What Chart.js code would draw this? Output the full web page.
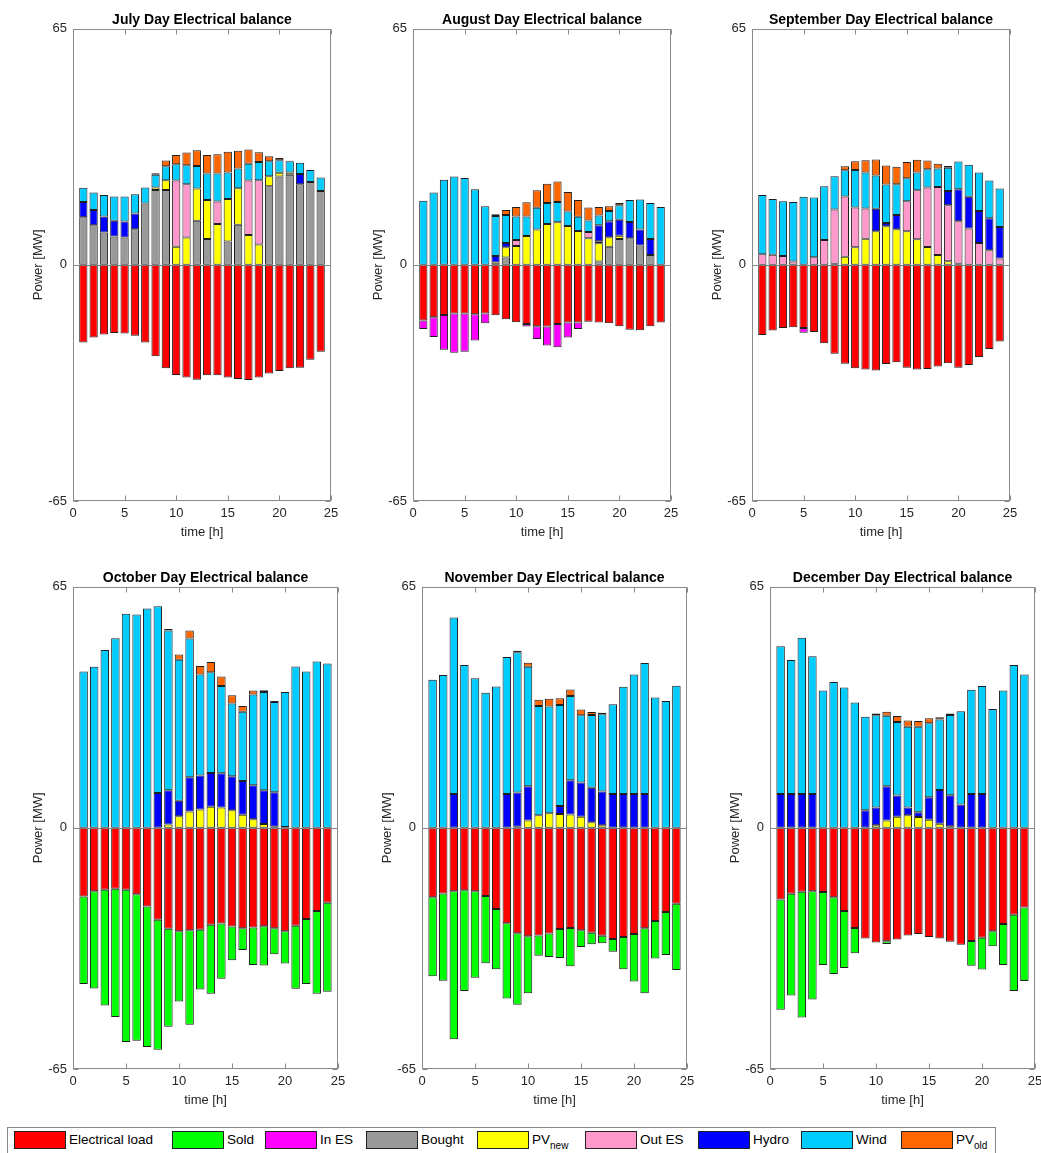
<!DOCTYPE html>
<html>
<head>
<meta charset="utf-8">
<script src="https://cdn.jsdelivr.net/npm/chart.js@4.4.1/dist/chart.umd.min.js"></script>
<style>
  body { margin: 0; background: #fff; width: 1041px; height: 1153px; overflow: hidden; position: relative;
         font-family: "Liberation Sans", Arial, sans-serif; }
  canvas { position: absolute; }
  #legend { position: absolute; left: 7px; top: 1127px; width: 987px; height: 30px; border: 1px solid #888; background: #fff; }
  .sw { position: absolute; top: 3px; width: 50px; height: 16px; border: 1px solid #222; }
  .lt { position: absolute; top: 3px; font-size: 13.5px; line-height: 18px; color: #000; white-space: nowrap; }
  .lt sub { font-size: 10px; vertical-align: -5px; line-height: 0; }
</style>
</head>
<body>
<canvas id="c0"></canvas>
<canvas id="c1"></canvas>
<canvas id="c2"></canvas>
<canvas id="c3"></canvas>
<canvas id="c4"></canvas>
<canvas id="c5"></canvas>
<div id="legend"></div>
<script>
// hours of the day (x values of the bars)
const hours = [1,2,3,4,5,6,7,8,9,10,11,12,13,14,15,16,17,18,19,20,21,22,23,24];
const yTicks = [-65, 0, 65];

// series in legend order
const seriesNames = ['Electrical load','Sold','In ES','Bought','PV<sub>new</sub>','Out ES','Hydro','Wind','PV<sub>old</sub>'];
const seriesColors = ['#ff0000','#00ff00','#ff00ff','#999999','#ffff00','#ff99cc','#0000ff','#00ccff','#ff6600'];

// ---- July
const julyLoad   = [-21.4,-20.0,-19.2,-18.8,-18.9,-19.5,-21.4,-25.2,-28.5,-30.3,-31.0,-31.6,-30.4,-30.4,-31.0,-31.4,-31.7,-31.0,-29.9,-29.2,-28.5,-28.3,-26.1,-23.9];
const julySold   = [0,0,0,0,0,0,0,0,0,0,0,0,0,0,0,0,0,0,0,0,0,0,0,0];
const julyInES   = [0,0,0,0,0,0,0,0,0,0,0,0,0,0,0,0,0,0,0,0,0,0,0,0];
const julyBought = [13.1,10.9,8.9,7.8,7.5,9.8,16.9,20.6,20.6,0,0,12.1,7.1,0,6.4,11.0,0,0,21.6,24.3,24.8,22.2,22.8,20.3];
const julyPvNew  = [0,0,0,0,0,0,0,0.7,2.7,5.0,7.5,8.9,10.7,11.2,11.7,10.1,8.2,5.6,2.8,1.0,0.6,0,0,0];
const julyOutES  = [0,0,0,0,0,0,0,0,0,18.2,14.7,0,0,6.2,0,0,15.0,17.7,0,0,0,0,0,0];
const julyHydro  = [4.2,4.2,4.4,4.3,4.4,4.3,0,0,0,0,0,0,0,0,0,0,0,0,0,0,0,2.8,0,0];
const julyWind   = [3.9,4.8,5.9,6.7,6.9,5.3,4.4,3.5,3.8,4.5,5.2,6.2,7.3,7.7,7.3,5.4,4.6,5.0,4.1,3.5,3.1,3.1,3.3,3.7];
const julyPvOld  = [0,0,0,0,0,0,0,0.4,1.6,2.5,3.5,4.3,5.1,5.3,5.7,4.9,3.9,2.7,1.4,0.6,0.1,0,0,0];

// ---- August
const augLoad   = [-15.3,-14.4,-13.8,-13.4,-13.4,-13.6,-13.4,-13.9,-15.0,-15.8,-16.3,-16.9,-17.0,-16.3,-15.9,-15.9,-15.7,-15.9,-16.1,-16.9,-17.9,-18.0,-16.9,-15.9];
const augSold   = [0,0,0,0,0,0,0,0,0,0,0,0,0,0,0,0,0,0,0,0,0,0,0,0];
const augInES   = [-2.4,-5.5,-9.6,-10.8,-10.5,-7.2,-2.7,0,0,0,-0.7,-3.5,-5.2,-6.4,-4.1,-1.8,0,0,0,0,0,0,0,0];
const augBought = [0,0,0,0,0,0,0,0,2.0,0,0,0,0,0,0,0,0,0.9,5.0,7.1,7.3,5.3,2.7,0];
const augPvNew  = [0,0,0,0,0,0,0,0.6,2.8,5.2,7.9,9.7,11.2,11.7,10.7,9.3,7.3,5.0,2.6,0.9,0,0,0,0];
const augOutES  = [0,0,0,0,0,0,0,0,0,1.6,0,0,0,0,0,0,1.7,0.6,0,0,0,0,0,0];
const augHydro  = [0,0,0,0,0,0,0,1.8,1.2,0,0,0,0,0,0,0,0,4.4,4.4,4.4,4.5,4.4,4.4,0];
const augWind   = [17.6,19.9,23.4,24.3,23.9,20.8,16.1,11.0,7.7,6.5,5.4,6.0,5.8,5.6,4.0,3.9,3.2,2.7,2.8,4.0,6.0,8.3,9.9,15.9];
const augPvOld  = [0,0,0,0,0,0,0,0.5,1.4,2.6,3.9,4.8,5.3,5.6,5.3,4.6,3.6,2.3,1.3,0.6,0,0,0,0];

// ---- September
const sepLoad   = [-19.3,-18.1,-17.4,-17.2,-17.4,-18.5,-21.6,-24.5,-27.2,-28.5,-28.8,-29.1,-27.3,-26.8,-28.3,-28.8,-28.7,-28.0,-27.1,-28.3,-27.6,-25.4,-23.2,-21.1];
const sepSold   = [0,0,0,0,0,0,0,0,0,0,0,0,0,0,0,0,0,0,0,0,0,0,0,0];
const sepInES   = [0,0,0,0,-1.3,0,0,0,0,0,0,0,0,0,0,0,0,0,0,0,0,0,0,0];
const sepBought = [0,0,0,0,0,0,0,0.3,0,0,0,0,0,0,0,0,0,0,0,0,0,0,0,0];
const sepPvNew  = [0,0,0,0,0,0,0,0,2.2,4.8,7.2,9.2,10.6,9.8,9.2,7.0,4.9,2.7,1.0,0.3,0,0,0,0];
const sepOutES  = [2.9,2.8,2.4,0.9,0,2.1,6.8,14.9,16.6,11.0,8.3,0,0,0,8.3,13.5,16.4,18.7,15.4,11.7,10.0,6.0,4.0,1.7];
const sepHydro  = [0,0,0,0,0,0,0,0,0,0,0,6.2,0.9,3.9,0,0,0,0,3.9,8.8,8.7,8.8,8.8,8.7];
const sepWind   = [16.3,15.3,15.1,16.4,18.7,16.4,14.8,9.2,7.2,10.3,9.9,9.2,10.6,8.5,6.3,4.9,5.0,5.1,6.4,7.6,8.8,10.6,10.4,10.6];
const sepPvOld  = [0,0,0,0,0,0,0,0,1.1,2.4,3.4,4.4,5.2,4.8,4.5,3.5,2.4,1.3,0.5,0,0,0,0,0];

// ---- October
const octLoad   = [-18.5,-17.1,-16.7,-16.4,-16.7,-17.9,-21.2,-24.8,-27.2,-27.9,-27.6,-27.5,-26.1,-25.8,-26.6,-27.1,-26.9,-26.5,-27.1,-27.9,-26.4,-24.6,-22.4,-20.2];
const octSold   = [-23.6,-26.2,-31.2,-34.6,-41.0,-39.5,-37.9,-35.0,-26.4,-18.9,-25.5,-16.1,-18.6,-14.9,-9.1,-5.8,-10.1,-10.6,-7.0,-8.7,-17.0,-17.5,-22.3,-24.0];
const octInES   = [0,0,0,0,0,0,0,0,0,0,0,0,0,0,0,0,0,0,0,0,0,0,0,0];
const octBought = [0,0,0,0,0,0,0,0,0,0,0,0,0,0,0,0,0,0,0,0,0,0,0,0];
const octPvNew  = [0,0,0,0,0,0,0,0,0.9,3.1,4.4,4.9,5.7,5.5,4.7,3.5,2.3,1.0,0.3,0,0,0,0,0];
const octOutES  = [0,0,0,0,0,0,0,0,0,0,0,0,0,0,0,0,0,0,0,0,0,0,0,0];
const octHydro  = [0,0,0,0,0,0,0,9.4,9.2,4.2,9.2,9.2,9.1,9.2,9.2,9.1,9.2,9.1,9.3,0.2,0,0,0,0];
const octWind   = [42.1,43.4,47.9,51.1,57.7,57.5,59.1,50.3,43.1,38.0,37.4,27.2,27.1,23.5,19.6,18.7,24.4,26.5,24.3,36.4,43.5,42.1,44.8,44.3];
const octPvOld  = [0,0,0,0,0,0,0,0,0.4,1.4,2.2,2.3,2.8,2.6,2.2,1.5,1.1,0.5,0.3,0,0,0,0,0];

// ---- November
const novLoad   = [-18.7,-17.7,-17.1,-16.8,-17.1,-18.4,-21.9,-25.7,-28.4,-29.2,-29.0,-28.5,-27.3,-27.0,-27.6,-28.3,-29.1,-30.0,-29.4,-28.6,-27.1,-25.1,-22.7,-20.5];
const novSold   = [-21.3,-23.5,-39.9,-27.2,-23.3,-18.1,-16.2,-20.3,-19.3,-15.4,-5.5,-6.3,-7.8,-10.3,-4.5,-3.1,-2.0,-3.4,-8.7,-12.8,-17.5,-10.1,-11.6,-17.8];
const novInES   = [0,0,0,0,0,0,0,0,0,0,0,0,0,0,0,0,0,0,0,0,0,0,0,0];
const novBought = [0,0,0,0,0,0,0,0,0,0,0,0,0,0,0,0,0,0,0,0,0,0,0,0];
const novPvNew  = [0,0,0,0,0,0,0,0,0.3,2.0,3.4,3.9,3.7,3.6,3.0,1.5,0.7,0,0,0,0,0,0,0];
const novOutES  = [0,0,0,0,0,0,0,0,0,0,0,0,0,0,0,0,0,0,0,0,0,0,0,0];
const novHydro  = [0,0,9.1,0,0,0,0,9.1,9.2,9.2,0,0,2.2,9.2,9.2,9.3,9.1,9.1,9.1,9.1,9.1,0,0,0];
const novWind   = [39.9,41.2,47.6,43.9,40.3,36.4,38.1,36.9,37.8,32.2,29.4,28.8,27.2,22.7,18.1,19.6,20.8,24.2,28.9,32.2,35.3,35.1,34.2,38.3];
const novPvOld  = [0,0,0,0,0,0,0,0,0.4,1.1,1.7,2.1,1.8,1.8,1.6,0.8,0.4,0,0,0,0,0,0,0];

// ---- December
const decLoad   = [-19.3,-17.8,-17.2,-17.1,-17.3,-18.7,-22.4,-27.0,-29.8,-30.9,-30.6,-30.1,-29.0,-28.6,-29.4,-29.8,-30.7,-31.5,-30.5,-29.6,-27.9,-25.9,-23.4,-21.5];
const decSold   = [-29.7,-27.4,-33.9,-29.2,-19.7,-20.7,-15.4,-6.8,0,0,-0.7,0,0,0,0,0,0,0,-6.7,-8.6,-4.0,-11.1,-20.6,-19.8];
const decInES   = [0,0,0,0,0,0,0,0,0,0,0,0,0,0,0,0,0,0,0,0,0,0,0,0];
const decBought = [0,0,0,0,0,0,0,0,0,0,0,0,0,0,0,0,0,0,0,0,0,0,0,0];
const decPvNew  = [0,0,0,0,0,0,0,0,0,0.7,2.0,3.0,3.4,2.9,2.2,1.1,0.4,0,0,0,0,0,0,0];
const decOutES  = [0,0,0,0,0,0,0,0,0,0,0,0,0,0,0,0,0,0,0,0,0,0,0,0];
const decHydro  = [9.1,9.1,9.1,9.1,0,0,0,0,4.7,4.8,9.2,5.7,2.1,1.3,6.0,9.1,8.4,6.3,9.1,9.1,0,0,0,0];
const decWind   = [39.8,36.1,42.1,37.1,37.0,39.3,37.8,33.8,25.2,24.8,19.0,19.8,21.7,23.0,20.0,19.0,21.6,25.1,28.1,29.1,32.0,37.0,43.9,41.3];
const decPvOld  = [0,0,0,0,0,0,0,0,0,0.5,1.1,1.6,1.7,1.6,1.3,0.6,0.4,0,0,0,0,0,0,0];

// panels: canvas placement, title and the month's series (legend order)
const L = 60, T = 26, B = 45, R = 12;
const panels = [
  { id: 'c0', x: 13,  y: 2,   pw: 258, ph: 473, title: 'July Day Electrical balance',
    series: [julyLoad, julySold, julyInES, julyBought, julyPvNew, julyOutES, julyHydro, julyWind, julyPvOld] },
  { id: 'c1', x: 353, y: 2,   pw: 258, ph: 473, title: 'August Day Electrical balance',
    series: [augLoad, augSold, augInES, augBought, augPvNew, augOutES, augHydro, augWind, augPvOld] },
  { id: 'c2', x: 692, y: 2,   pw: 258, ph: 473, title: 'September Day Electrical balance',
    series: [sepLoad, sepSold, sepInES, sepBought, sepPvNew, sepOutES, sepHydro, sepWind, sepPvOld] },
  { id: 'c3', x: 13,  y: 560, pw: 265, ph: 483, title: 'October Day Electrical balance',
    series: [octLoad, octSold, octInES, octBought, octPvNew, octOutES, octHydro, octWind, octPvOld] },
  { id: 'c4', x: 362, y: 560, pw: 265, ph: 483, title: 'November Day Electrical balance',
    series: [novLoad, novSold, novInES, novBought, novPvNew, novOutES, novHydro, novWind, novPvOld] },
  { id: 'c5', x: 710, y: 560, pw: 265, ph: 483, title: 'December Day Electrical balance',
    series: [decLoad, decSold, decInES, decBought, decPvNew, decOutES, decHydro, decWind, decPvOld] }
];

const FONT = 'Liberation Sans, Arial, sans-serif';
const AXIS_GRAY = '#8a8a8a';

// box, inward ticks and the zero baseline like the original figure
const framePlugin = {
  id: 'frame',
  afterDatasetsDraw(chart) {
    const { ctx, chartArea: a, scales: { y } } = chart;
    ctx.save();
    ctx.strokeStyle = '#7a7a7a';
    ctx.lineWidth = 1;
    const y0 = Math.round(y.getPixelForValue(0)) + 0.5;
    ctx.beginPath();
    ctx.moveTo(a.left, y0);
    ctx.lineTo(a.right, y0);
    ctx.stroke();
    ctx.restore();
  },
  afterDraw(chart) {
    const { ctx, chartArea: a, scales: { x, y } } = chart;
    const l = Math.round(a.left) + 0.5, r = Math.round(a.right) - 0.5;
    const t = Math.round(a.top) + 0.5, b = Math.round(a.bottom) - 0.5;
    ctx.save();
    ctx.strokeStyle = AXIS_GRAY;
    ctx.lineWidth = 1;
    ctx.strokeRect(l, t, r - l, b - t);
    ctx.beginPath();
    x.ticks.forEach(tk => {
      const px = Math.round(x.getPixelForValue(tk.value)) + 0.5;
      ctx.moveTo(px, b); ctx.lineTo(px, b - 5);
      ctx.moveTo(px, t); ctx.lineTo(px, t + 5);
    });
    y.ticks.forEach(tk => {
      const py = Math.round(y.getPixelForValue(tk.value)) + 0.5;
      ctx.moveTo(l, py); ctx.lineTo(l + 5, py);
      ctx.moveTo(r, py); ctx.lineTo(r - 5, py);
    });
    ctx.stroke();
    ctx.restore();
  }
};

function makeDatasets(series) {
  return series.map((vals, i) => ({
    label: seriesNames[i].replace(/<[^>]+>/g, ''),
    data: hours.map((h, k) => ({ x: h, y: vals[k] === 0 ? null : vals[k] })),
    backgroundColor: seriesColors[i],
    borderColor: '#1e1e1e',
    borderWidth: 1,
    borderSkipped: false,
    barPercentage: 0.8,
    categoryPercentage: 1.0
  }));
}

panels.forEach(p => {
  const cv = document.getElementById(p.id);
  cv.width = L + p.pw + R;
  cv.height = T + p.ph + B;
  cv.style.left = p.x + 'px';
  cv.style.top = p.y + 'px';

  new Chart(cv.getContext('2d'), {
    type: 'bar',
    data: { datasets: makeDatasets(p.series) },
    plugins: [framePlugin],
    options: {
      responsive: false,
      animation: false,
      layout: { padding: { left: 0, top: 0, bottom: 0, right: R } },
      plugins: {
        legend: { display: false },
        tooltip: { enabled: false },
        title: {
          display: true,
          fullSize: false,
          text: p.title,
          color: '#000',
          font: { family: FONT, size: 14, weight: 'bold' },
          padding: { top: 9.6, bottom: 0.2 }
        }
      },
      scales: {
        x: {
          type: 'linear',
          min: 0, max: 25,
          offset: false,
          stacked: true,
          grid: { display: false, drawTicks: false },
          border: { display: false },
          ticks: { stepSize: 5, padding: 5, color: '#262626', font: { family: FONT, size: 13 }, maxRotation: 0, autoSkip: false },
          title: { display: true, text: 'time [h]', color: '#262626', font: { family: FONT, size: 13 }, padding: { top: 0, bottom: 6.2 } },
          afterFit: s => { s.height = B; s.paddingLeft = 0; s.paddingRight = 0; }
        },
        y: {
          min: -65, max: 65,
          stacked: true,
          grid: { display: false, drawTicks: false },
          border: { display: false },
          afterBuildTicks: s => { s.ticks = yTicks.map(v => ({ value: v })); },
          ticks: { padding: 6, color: '#262626', font: { family: FONT, size: 13 } },
          title: { display: true, text: 'Power [MW]', color: '#262626', font: { family: FONT, size: 13 }, padding: { top: 17.2, bottom: 0 } },
          afterFit: s => { s.width = L; s.paddingTop = 0; s.paddingBottom = 0; }
        }
      }
    }
  });
});

// legend row under the panels
const legendSwatchX = [6, 164, 257, 358, 469, 577, 690, 793, 893];
const legend = document.getElementById('legend');
seriesNames.forEach((name, i) => {
  const sw = document.createElement('div');
  sw.className = 'sw';
  sw.style.left = legendSwatchX[i] + 'px';
  sw.style.background = seriesColors[i];
  legend.appendChild(sw);
  const tx = document.createElement('div');
  tx.className = 'lt';
  tx.style.left = (legendSwatchX[i] + 55) + 'px';
  tx.innerHTML = name;
  legend.appendChild(tx);
});
</script>
</body>
</html>
